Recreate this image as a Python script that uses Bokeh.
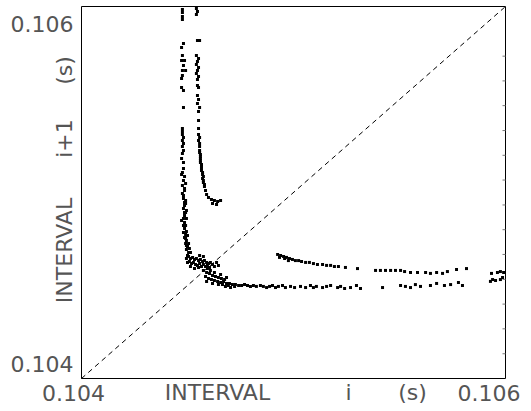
import numpy as np
from bokeh.plotting import figure
from bokeh.models import Range1d, Label
from bokeh.embed import file_html
from bokeh.resources import INLINE

# ---- axis values / texts ----
axis_min_s = 0.104
axis_max_s = 0.106
x_tick_labels = ["0.104", "0.106"]
y_tick_labels = ["0.104", "0.106"]
x_title_words = ["INTERVAL", "i", "(s)"]
y_title_words = ["INTERVAL", "i+1", "(s)"]
right_edge_ticks_s = [0.104133, 0.104267, 0.104400, 0.104533, 0.104667, 0.104800,
                      0.104933, 0.105067, 0.105200, 0.105333, 0.105467, 0.105600, 0.105733]

# ---- data (milliseconds): interval i vs interval i+1 ----
left_col_i = [104.476, 104.476, 104.476, 104.476, 104.481, 104.472, 104.476, 104.472, 104.486,
              104.481, 104.476, 104.491, 104.476, 104.472, 104.472, 104.481, 104.481, 104.476,
              104.476, 104.476, 104.481, 104.476, 104.481, 104.476, 104.481, 104.476, 104.481,
              104.476, 104.486, 104.481, 104.491, 104.486, 104.481, 104.491, 104.486, 104.481,
              104.491, 104.486, 104.495, 104.486, 104.491, 104.486, 104.495, 104.491, 104.486,
              104.495, 104.491, 104.500, 104.495, 104.505, 104.500, 104.486, 104.481, 104.491,
              104.472, 104.481, 104.476, 104.486, 104.481, 104.491, 104.495, 104.481, 104.500,
              104.505, 104.509, 104.514, 104.472, 104.476, 104.486, 104.472, 104.481, 104.495]
left_col_next = [105.984, 105.968, 105.946, 105.930, 105.801, 105.780, 105.737, 105.710, 105.710,
                 105.683, 105.656, 105.656, 105.629, 105.613, 105.565, 105.548, 105.457, 105.344,
                 105.328, 105.312, 105.296, 105.280, 105.263, 105.247, 105.226, 105.210, 105.129,
                 105.108, 105.086, 105.065, 105.048, 105.011, 104.984, 104.957, 104.930, 104.914,
                 104.892, 104.876, 104.860, 104.839, 104.823, 104.806, 104.790, 104.774, 104.758,
                 104.742, 104.726, 104.710, 104.694, 104.677, 104.661, 104.892, 104.823, 104.753,
                 105.183, 105.161, 105.038, 105.022, 104.968, 104.941, 104.903, 104.860, 104.769,
                 104.726, 104.699, 104.677, 105.097, 104.995, 104.946, 104.849, 104.785, 104.715]

right_col_i = [104.542, 104.547, 104.542, 104.547, 104.557, 104.542, 104.552, 104.547, 104.542,
               104.552, 104.547, 104.542, 104.552, 104.547, 104.552, 104.547, 104.552, 104.547,
               104.557, 104.552, 104.552, 104.552, 104.557, 104.552, 104.557, 104.557, 104.557,
               104.561, 104.561, 104.561, 104.566, 104.566, 104.571, 104.571, 104.575, 104.580,
               104.585, 104.590, 104.599, 104.613, 104.627, 104.642, 104.656, 104.618, 104.637,
               104.557, 104.561, 104.561, 104.566, 104.566, 104.571, 104.575, 104.575, 104.580,
               104.552, 104.547]
right_col_next = [105.989, 105.973, 105.957, 105.817, 105.817, 105.737, 105.720, 105.704, 105.688,
                  105.672, 105.656, 105.640, 105.624, 105.608, 105.565, 105.522, 105.500, 105.478,
                  105.457, 105.435, 105.344, 105.312, 105.296, 105.280, 105.263, 105.247, 105.226,
                  105.204, 105.183, 105.161, 105.140, 105.118, 105.097, 105.075, 105.054, 105.032,
                  105.011, 104.989, 104.973, 104.962, 104.957, 104.952, 104.957, 104.941, 104.935,
                  105.215, 105.194, 105.172, 105.151, 105.129, 105.108, 105.086, 105.065, 105.043,
                  105.387, 105.575]

cross_i = [104.505, 104.514, 104.524, 104.533, 104.542, 104.552, 104.561, 104.571, 104.580,
           104.590, 104.599, 104.608, 104.495, 104.509, 104.519, 104.528, 104.538, 104.547,
           104.557, 104.566, 104.575, 104.585, 104.594, 104.604, 104.514, 104.533, 104.552,
           104.618, 104.627, 104.500, 104.557, 104.575, 104.637, 104.646, 104.608, 104.627,
           104.656, 104.684, 104.665, 104.693, 104.722, 104.594]
cross_next = [104.656, 104.645, 104.651, 104.640, 104.645, 104.634, 104.640, 104.629, 104.634,
              104.624, 104.618, 104.624, 104.645, 104.629, 104.618, 104.624, 104.613, 104.608,
              104.618, 104.602, 104.613, 104.602, 104.608, 104.597, 104.602, 104.591, 104.597,
              104.613, 104.602, 104.624, 104.661, 104.656, 104.624, 104.608, 104.581, 104.570,
              104.559, 104.543, 104.505, 104.500, 104.495, 104.591]

lower_i = [104.575, 104.590, 104.604, 104.618, 104.632, 104.646, 104.660, 104.675, 104.585,
           104.599, 104.613, 104.627, 104.642, 104.656, 104.670, 104.684, 104.698, 104.712,
           104.726, 104.741, 104.755, 104.769, 104.783, 104.797, 104.811, 104.825, 104.844,
           104.858, 104.873, 104.887, 104.901, 104.915, 104.929, 104.948, 104.962, 104.986,
           105.005, 105.033, 105.057, 105.080, 105.094, 105.108, 105.137, 105.156, 105.175,
           105.208, 105.222, 105.241, 105.269, 105.297, 105.316, 105.420, 105.505, 105.528,
           105.552, 105.575, 105.599, 105.646, 105.675, 105.712, 105.741, 105.778, 105.797,
           105.929, 105.939, 105.953, 105.976, 105.986, 104.590, 104.618, 104.646, 104.679,
           104.703]
lower_next = [104.581, 104.570, 104.565, 104.554, 104.548, 104.543, 104.538, 104.532, 104.548,
              104.538, 104.532, 104.527, 104.522, 104.516, 104.522, 104.511, 104.511, 104.505,
              104.505, 104.500, 104.500, 104.505, 104.500, 104.495, 104.500, 104.495, 104.500,
              104.495, 104.489, 104.495, 104.500, 104.489, 104.495, 104.500, 104.489, 104.495,
              104.489, 104.495, 104.489, 104.500, 104.489, 104.495, 104.489, 104.495, 104.500,
              104.489, 104.495, 104.484, 104.489, 104.500, 104.484, 104.489, 104.500, 104.495,
              104.489, 104.505, 104.495, 104.500, 104.511, 104.500, 104.505, 104.516, 104.500,
              104.522, 104.532, 104.527, 104.532, 104.543, 104.522, 104.511, 104.505, 104.495,
              104.489]

upper_i = [104.925, 104.939, 104.953, 104.967, 104.981, 104.995, 105.009, 105.024, 105.038,
           105.057, 105.075, 105.094, 105.113, 105.137, 105.156, 105.175, 105.193, 105.212,
           105.245, 105.302, 105.387, 105.410, 105.434, 105.458, 105.481, 105.505, 105.524,
           105.552, 105.585, 105.623, 105.646, 105.675, 105.703, 105.726, 105.769, 105.816,
           105.934, 105.962, 105.976, 105.991, 104.934, 104.958, 104.976]
upper_next = [104.667, 104.661, 104.656, 104.651, 104.645, 104.640, 104.634, 104.634, 104.629,
              104.624, 104.624, 104.618, 104.613, 104.613, 104.608, 104.608, 104.602, 104.602,
              104.597, 104.591, 104.581, 104.581, 104.581, 104.581, 104.581, 104.581, 104.575,
              104.570, 104.570, 104.570, 104.565, 104.570, 104.565, 104.575, 104.586, 104.591,
              104.565, 104.570, 104.575, 104.570, 104.651, 104.645, 104.634]

xs = np.array(left_col_i + right_col_i + cross_i + lower_i + upper_i) / 1000.0
ys = np.array(left_col_next + right_col_next + cross_next + lower_next + upper_next) / 1000.0

# ---- layout geometry (canvas pixels) ----
W, H = 524, 404
BOX_L, BOX_R, BOX_T, BOX_B = 81, 505, 6, 378
span = axis_max_s - axis_min_s
sx = span / (BOX_R - BOX_L)
sy = span / (BOX_B - BOX_T)
x_start = axis_min_s - BOX_L * sx
x_end = x_start + W * sx
y_end = axis_max_s + BOX_T * sy
y_start = y_end - H * sy

FONT = "DejaVu Sans"
FS = "22px"
TXT = "#555555"

p = figure(width=W, height=H,
           x_range=Range1d(x_start, x_end), y_range=Range1d(y_start, y_end),
           x_axis_location=None, y_axis_location=None,
           output_backend="svg", toolbar_location=None,
           min_border=0)
p.grid.visible = False
p.outline_line_color = None
p.background_fill_color = "white"
p.border_fill_color = "white"

# plot box
p.quad(left=[axis_min_s], right=[axis_max_s], bottom=[axis_min_s], top=[axis_max_s],
       fill_color=None, line_color="black", line_width=1)

# small inward ticks on the right edge
tick_len = 3 * sx
p.segment(x0=[axis_max_s] * len(right_edge_ticks_s), y0=right_edge_ticks_s,
          x1=[axis_max_s - tick_len] * len(right_edge_ticks_s), y1=right_edge_ticks_s,
          line_color="#777777", line_width=1)

# diagonal identity line
p.line([axis_min_s, axis_max_s], [axis_min_s, axis_max_s], line_color="black",
       line_width=1, line_dash="5 4")

# return-map points
p.scatter(xs, ys, marker="square", size=3, fill_color="black", line_color=None)


def lab(text, x, y, align="center", angle=0.0):
    # x, y: canvas pixels from the top-left corner
    p.add_layout(Label(x=x, y=H - y, x_units="screen", y_units="screen", text=text,
                       text_font=FONT, text_font_size=FS, text_color=TXT,
                       text_align=align, text_baseline="middle", angle=angle))


# bottom row
lab(x_tick_labels[0], 73, 392)
lab(x_title_words[0], 217, 392)
lab(x_title_words[1], 348, 392)
lab(x_title_words[2], 412, 392)
lab(x_tick_labels[1], 520, 392, align="right")

# left column
lab(y_tick_labels[1], 73, 23, align="right")
lab(y_tick_labels[0], 73, 363, align="right")
lab(y_title_words[0], 64, 250, angle=np.pi / 2)
lab(y_title_words[1], 64, 138, angle=np.pi / 2)
lab(y_title_words[2], 64, 70, angle=np.pi / 2)

open("out.html", "w").write(file_html(p, INLINE))
